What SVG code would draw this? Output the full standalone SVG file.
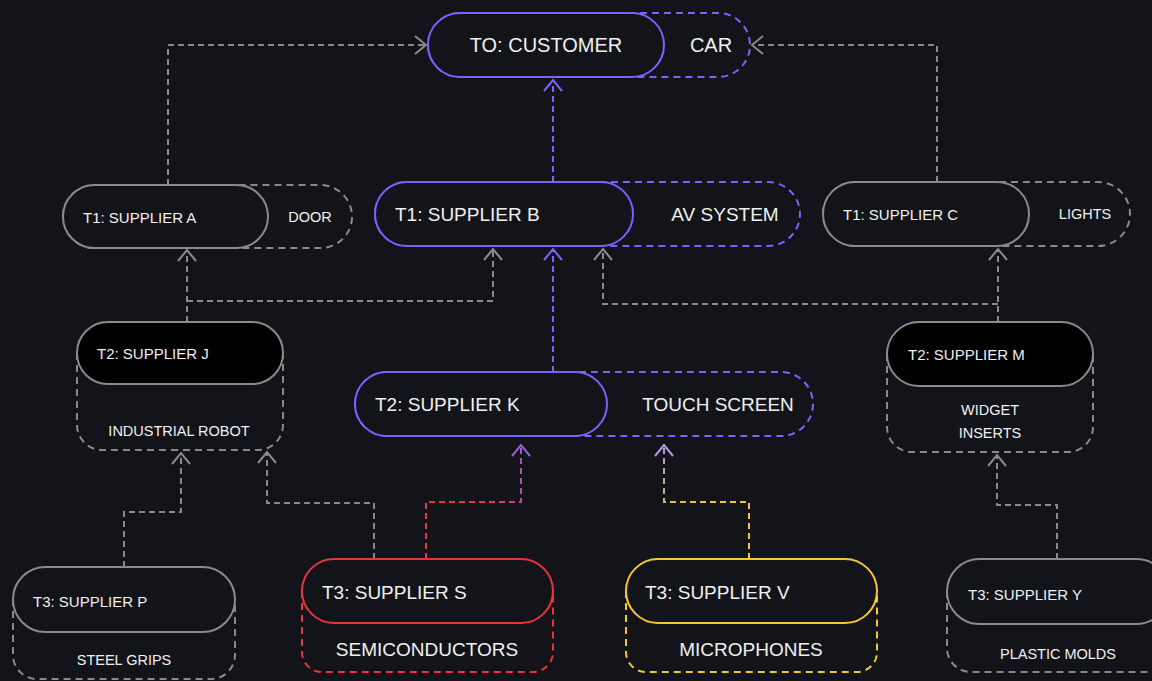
<svg xmlns="http://www.w3.org/2000/svg" width="1152" height="681" viewBox="0 0 1152 681">
<style>
text{font-family:"Liberation Sans",Arial,sans-serif;fill:#f0f0f0;dominant-baseline:central}
.lg{font-size:19px}
.sm{font-size:14.5px}
.nm{font-size:15px}
.mid{text-anchor:middle}
.pill{fill:#131419;stroke-width:2}
.blk{fill:#000;stroke:#8a8a8a;stroke-width:2}
.dash{fill:none;stroke-width:2;stroke-dasharray:7 5}
.gray{stroke:#8a8a8a}
.pur{stroke:#7b61ff}
.red{stroke:#e8343f}
.yel{stroke:#f5c832}
.con{fill:none;stroke-width:2;stroke-dasharray:6 4}
</style>
<defs>
<marker id="ag" markerUnits="userSpaceOnUse" markerWidth="24" markerHeight="24" viewBox="-14 -12 16 24" refX="0" refY="0" orient="auto"><path d="M-11,-9 L0,0 L-11,9" fill="none" stroke="#8a8a8a" stroke-width="2"/></marker>
<marker id="ap" markerUnits="userSpaceOnUse" markerWidth="24" markerHeight="24" viewBox="-14 -12 16 24" refX="0" refY="0" orient="auto"><path d="M-11,-9 L0,0 L-11,9" fill="none" stroke="#7b61ff" stroke-width="2"/></marker>
<marker id="am" markerUnits="userSpaceOnUse" markerWidth="24" markerHeight="24" viewBox="-14 -12 16 24" refX="0" refY="0" orient="auto"><path d="M-11,-9 L0,0 L-11,9" fill="none" stroke="#9d5bd6" stroke-width="2"/></marker>
<marker id="al" markerUnits="userSpaceOnUse" markerWidth="24" markerHeight="24" viewBox="-14 -12 16 24" refX="0" refY="0" orient="auto"><path d="M-11,-9 L0,0 L-11,9" fill="none" stroke="#b399d8" stroke-width="2"/></marker>
<linearGradient id="gs" gradientUnits="userSpaceOnUse" x1="426" y1="530" x2="521" y2="450"><stop offset="0" stop-color="#e8343f"/><stop offset="0.45" stop-color="#e8343f"/><stop offset="1" stop-color="#9d5bd6"/></linearGradient>
<linearGradient id="gv" gradientUnits="userSpaceOnUse" x1="749" y1="530" x2="664" y2="450"><stop offset="0" stop-color="#f5c832"/><stop offset="0.45" stop-color="#f5c832"/><stop offset="1" stop-color="#b399d8"/></linearGradient>
</defs>
<rect x="0" y="0" width="1152" height="681" fill="#131419"/>

<g id="connectors">
<path class="con gray" d="M168,185 V45 H426" marker-end="url(#ag)"/>
<path class="con gray" d="M937,182 V45 H752" marker-end="url(#ag)"/>
<path class="con pur" d="M553,182 V80" marker-end="url(#ap)"/>
<path class="con gray" d="M187,322 V250" marker-end="url(#ag)"/>
<path class="con gray" d="M187,301 H493 V249" marker-end="url(#ag)"/>
<path class="con pur" d="M553,372 V249" marker-end="url(#ap)"/>
<path class="con gray" d="M998,322 V249" marker-end="url(#ag)"/>
<path class="con gray" d="M998,304 H603 V249" marker-end="url(#ag)"/>
<path class="con gray" d="M124,567 V512 H181 V453" marker-end="url(#ag)"/>
<path class="con gray" d="M374,559 V503 H267 V452" marker-end="url(#ag)"/>
<path class="con" stroke="url(#gs)" d="M426,559 V502 H521 V445" marker-end="url(#am)"/>
<path class="con" stroke="url(#gv)" d="M749,559 V502 H664 V445" marker-end="url(#al)"/>
<path class="con gray" d="M1057,559 V505 H997 V455" marker-end="url(#ag)"/>
</g>

<g id="customer">
<rect class="dash pur" x="428" y="13" width="322" height="64" rx="32"/>
<rect class="pill pur" x="428" y="13" width="236" height="64" rx="32"/>
<text class="lg mid" x="546" y="45" style="font-size:20px">TO: CUSTOMER</text>
<text class="lg mid" x="711" y="45" style="font-size:20px">CAR</text>
</g>

<g id="supplier-a">
<rect class="dash gray" x="63" y="185" width="289" height="63" rx="31.5"/>
<rect class="pill gray" x="63" y="185" width="205" height="63" rx="31.5"/>
<text class="nm" x="83" y="217">T1: SUPPLIER A</text>
<text class="sm mid" x="310" y="217">DOOR</text>
</g>

<g id="supplier-b">
<rect class="dash pur" x="375" y="182" width="425" height="64" rx="32"/>
<rect class="pill pur" x="375" y="182" width="258" height="64" rx="32"/>
<text class="lg" x="395" y="214">T1: SUPPLIER B</text>
<text class="lg mid" x="725" y="214">AV SYSTEM</text>
</g>

<g id="supplier-c">
<rect class="dash gray" x="823" y="182" width="307" height="64" rx="32"/>
<rect class="pill gray" x="823" y="182" width="206" height="64" rx="32"/>
<text class="nm" x="843" y="214">T1: SUPPLIER C</text>
<text class="sm mid" x="1085" y="214">LIGHTS</text>
</g>

<g id="supplier-j">
<path class="dash gray" d="M77,353 V425 A25,25 0 0 0 102,450 H258 A25,25 0 0 0 283,425 V353"/>
<rect class="blk" x="77" y="322" width="206" height="62" rx="31"/>
<text class="nm" x="97" y="353">T2: SUPPLIER J</text>
<text class="sm mid" x="179" y="431">INDUSTRIAL ROBOT</text>
</g>

<g id="supplier-k">
<rect class="dash pur" x="355" y="372" width="458" height="64" rx="32"/>
<rect class="pill pur" x="355" y="372" width="252" height="64" rx="32"/>
<text class="lg" x="375" y="404">T2: SUPPLIER K</text>
<text class="lg mid" x="718" y="404">TOUCH SCREEN</text>
</g>

<g id="supplier-m">
<path class="dash gray" d="M887,354 V427 A25,25 0 0 0 912,452 H1068 A25,25 0 0 0 1093,427 V354"/>
<rect class="blk" x="887" y="322" width="206" height="64" rx="32"/>
<text class="nm" x="908" y="354">T2: SUPPLIER M</text>
<text class="sm mid" x="990" y="410">WIDGET</text>
<text class="sm mid" x="990" y="433">INSERTS</text>
</g>

<g id="supplier-p">
<path class="dash gray" d="M13,599 V655 A24,24 0 0 0 37,679 H211 A24,24 0 0 0 235,655 V599"/>
<rect class="pill gray" x="13" y="567" width="222" height="65" rx="32.5"/>
<text class="nm" x="33" y="601">T3: SUPPLIER P</text>
<text class="sm mid" x="124" y="660">STEEL GRIPS</text>
</g>

<g id="supplier-s">
<path class="dash red" d="M302,591 V652 A20,20 0 0 0 322,672 H533 A20,20 0 0 0 553,652 V591"/>
<rect class="pill red" x="302" y="559" width="251" height="64" rx="32"/>
<text class="lg" x="322" y="592">T3: SUPPLIER S</text>
<text class="lg mid" x="427" y="649">SEMICONDUCTORS</text>
</g>

<g id="supplier-v">
<path class="dash yel" d="M626,591 V652 A20,20 0 0 0 646,672 H857 A20,20 0 0 0 877,652 V591"/>
<rect class="pill yel" x="626" y="559" width="251" height="64" rx="32"/>
<text class="lg" x="645" y="592">T3: SUPPLIER V</text>
<text class="lg mid" x="751" y="649">MICROPHONES</text>
</g>

<g id="supplier-y">
<path class="dash gray" d="M947,591 V648 A24,24 0 0 0 971,672 H1145 A24,24 0 0 0 1169,648 V591"/>
<rect class="pill gray" x="947" y="559" width="222" height="65" rx="32.5"/>
<text class="nm" x="968" y="594">T3: SUPPLIER Y</text>
<text class="sm mid" x="1058" y="654">PLASTIC MOLDS</text>
</g>
</svg>
